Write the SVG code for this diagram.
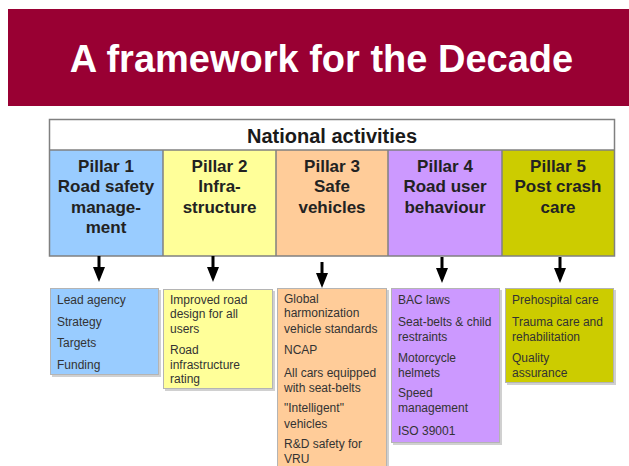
<svg xmlns="http://www.w3.org/2000/svg" width="629" height="466" viewBox="0 0 629 466">
<style>
.title{font-family:"Liberation Sans",Arial,sans-serif;font-weight:bold;font-size:38px;fill:#ffffff;text-anchor:middle}
.hdr{font-family:"Liberation Sans",Arial,sans-serif;font-weight:bold;font-size:20px;fill:#1a1a1a;text-anchor:middle}
.pil{font-family:"Liberation Sans",Arial,sans-serif;font-weight:bold;font-size:17px;fill:#222222;text-anchor:middle}
.itm{font-family:"Liberation Sans",Arial,sans-serif;font-size:12px;fill:#333333}
.box{stroke:#b4b4b4;stroke-width:1}
.shadow{fill:#d0d0d0}
.grid{fill:none;stroke:#808080;stroke-width:1.5}
</style>
<defs>
<path id="arr" d="M-1.5,0 H1.5 V11 H6 L0,26 L-6,11 H-1.5 Z" fill="#000000"/>
</defs>
<rect width="629" height="466" fill="#ffffff"/>
<g id="banner">
<rect x="8" y="9" width="621" height="97" fill="#990033"/>
<text class="title" x="321.5" y="72">A framework for the Decade</text>
</g>
<g id="table">
<rect x="49.5" y="119.5" width="565" height="30.5" fill="#ffffff"/>
<text class="hdr" x="332" y="143">National activities</text>
</g>
<g id="pillar1">
<rect x="49.5" y="150" width="113.5" height="106" fill="#99ccff"/>
<text class="pil" x="106" y="172">Pillar 1</text>
<text class="pil" x="106" y="192">Road safety</text>
<text class="pil" x="106" y="212.5">manage-</text>
<text class="pil" x="106" y="233">ment</text>
</g>
<g id="pillar2">
<rect x="163" y="150" width="113" height="106" fill="#ffff99"/>
<text class="pil" x="219.5" y="172">Pillar 2</text>
<text class="pil" x="219.5" y="192">Infra-</text>
<text class="pil" x="219.5" y="212.5">structure</text>
</g>
<g id="pillar3">
<rect x="276" y="150" width="112" height="106" fill="#ffcc99"/>
<text class="pil" x="332" y="172">Pillar 3</text>
<text class="pil" x="332" y="192">Safe</text>
<text class="pil" x="332" y="212.5">vehicles</text>
</g>
<g id="pillar4">
<rect x="388" y="150" width="114" height="106" fill="#cc99ff"/>
<text class="pil" x="445" y="172">Pillar 4</text>
<text class="pil" x="445" y="192">Road user</text>
<text class="pil" x="445" y="212.5">behaviour</text>
</g>
<g id="pillar5">
<rect x="502" y="150" width="112.5" height="106" fill="#cccc00"/>
<text class="pil" x="558" y="172">Pillar 5</text>
<text class="pil" x="558" y="192">Post crash</text>
<text class="pil" x="558" y="212.5">care</text>
</g>
<g id="grid">
<rect class="grid" x="49.5" y="119.5" width="565" height="136.5"/>
<line class="grid" x1="49.5" y1="150" x2="614.5" y2="150"/>
<line class="grid" x1="163" y1="150" x2="163" y2="256"/>
<line class="grid" x1="276" y1="150" x2="276" y2="256"/>
<line class="grid" x1="388" y1="150" x2="388" y2="256"/>
<line class="grid" x1="502" y1="150" x2="502" y2="256"/>
</g>
<g id="connectors">
<use href="#arr" x="99" y="256"/>
<use href="#arr" x="213" y="256"/>
<use href="#arr" x="322" y="262"/>
<use href="#arr" x="442" y="257"/>
<use href="#arr" x="560" y="257"/>
</g>
<g id="box1">
<rect class="shadow" x="52" y="290" width="109" height="87"/>
<rect class="box" x="50.5" y="288.5" width="108" height="86" fill="#99ccff"/>
<text class="itm" x="57" y="304">Lead agency</text>
<text class="itm" x="57" y="326">Strategy</text>
<text class="itm" x="57" y="347">Targets</text>
<text class="itm" x="57" y="369">Funding</text>
</g>
<g id="box2">
<rect class="shadow" x="165" y="291" width="110" height="100"/>
<rect class="box" x="163.5" y="289.5" width="109" height="99" fill="#ffff99"/>
<text class="itm" x="170" y="304">Improved road</text>
<text class="itm" x="170" y="318">design for all</text>
<text class="itm" x="170" y="333">users</text>
<text class="itm" x="170" y="354">Road</text>
<text class="itm" x="170" y="369">infrastructure</text>
<text class="itm" x="170" y="383">rating</text>
</g>
<g id="box3">
<rect class="shadow" x="279" y="290" width="110" height="180"/>
<rect class="box" x="277.5" y="288.5" width="109" height="180" fill="#ffcc99"/>
<text class="itm" x="284" y="303">Global</text>
<text class="itm" x="284" y="317">harmonization</text>
<text class="itm" x="284" y="333">vehicle standards</text>
<text class="itm" x="284" y="354">NCAP</text>
<text class="itm" x="284" y="377">All cars equipped</text>
<text class="itm" x="284" y="392">with seat-belts</text>
<text class="itm" x="284" y="412">"Intelligent"</text>
<text class="itm" x="284" y="428">vehicles</text>
<text class="itm" x="284" y="448">R&amp;D safety for</text>
<text class="itm" x="284" y="463">VRU</text>
</g>
<g id="box4">
<rect class="shadow" x="393" y="290" width="109" height="155"/>
<rect class="box" x="391.5" y="288.5" width="108" height="154" fill="#cc99ff"/>
<text class="itm" x="398" y="304">BAC laws</text>
<text class="itm" x="398" y="326">Seat-belts &amp; child</text>
<text class="itm" x="398" y="341">restraints</text>
<text class="itm" x="398" y="362">Motorcycle</text>
<text class="itm" x="398" y="377">helmets</text>
<text class="itm" x="398" y="397">Speed</text>
<text class="itm" x="398" y="412">management</text>
<text class="itm" x="398" y="435">ISO 39001</text>
</g>
<g id="box5">
<rect class="shadow" x="507" y="290" width="109" height="95"/>
<rect class="box" x="505.5" y="288.5" width="108" height="94" fill="#cccc00"/>
<text class="itm" x="512" y="304">Prehospital care</text>
<text class="itm" x="512" y="326">Trauma care and</text>
<text class="itm" x="512" y="341">rehabilitation</text>
<text class="itm" x="512" y="362">Quality</text>
<text class="itm" x="512" y="377">assurance</text>
</g>
</svg>
